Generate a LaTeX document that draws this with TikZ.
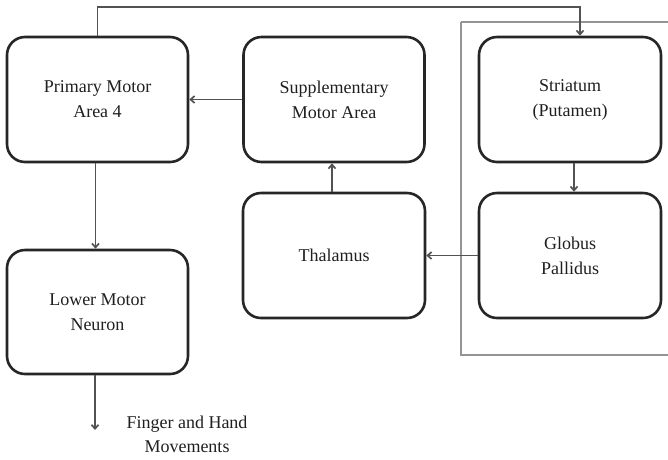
\documentclass[tikz,border=0pt]{standalone}
\usepackage{fontspec}
\setmainfont{Liberation Serif}
\usetikzlibrary{arrows.meta}
\begin{document}
\begin{tikzpicture}[x=1pt,y=-1pt,
  boxnode/.style={draw=black!85, line width=2.6pt, rounded corners=18pt, align=center,
    font=\fontsize{18}{25}\selectfont, text=black!88, inner sep=0pt},
  arr/.style={draw=black!68, line width=1.7pt, -{Straight Barb[length=4pt,width=7pt]}},
  lbl/.style={align=center, font=\fontsize{18}{24}\selectfont, text=black!88}]
\useasboundingbox (0,0) rectangle (668,459);
\draw[black!42, line width=1.6pt] (461,22) -- (690,22) (461,22) -- (461,355) -- (690,355);
\node[boxnode, minimum width=181pt, minimum height=125pt] (prim) at (97.5,99.5) {Primary Motor\\Area 4};
\node[boxnode, minimum width=181pt, minimum height=125pt] (sup) at (334,99.5) {Supplementary\\Motor Area};
\node[boxnode, minimum width=182pt, minimum height=125pt] (stri) at (570,99.5) {Striatum\\(Putamen)};
\node[boxnode, minimum width=182pt, minimum height=125pt] (thal) at (334,255.5) {Thalamus};
\node[boxnode, minimum width=182pt, minimum height=125pt] (glob) at (570,255.5) {Globus\\Pallidus};
\node[boxnode, minimum width=181pt, minimum height=124pt] (low) at (97.5,312) {Lower Motor\\Neuron};
\coordinate (tr) at (580,7);
\coordinate (fend) at (95,430);
\node[lbl] (fing) at (187,434) {Finger and Hand\\Movements};
\draw[arr] (prim.north) |- (tr) -- (stri.north -| tr);
\draw[arr] (sup.west) -- (prim.east);
\draw[arr] ([xshift=-2pt]thal.north) -- ([xshift=-2pt]sup.south);
\draw[arr] ([xshift=4pt]stri.south) -- ([xshift=4pt]glob.north);
\draw[arr] (glob.west) -- (thal.east);
\draw[arr] ([xshift=-2pt]prim.south) -- ([xshift=-2pt]low.north);
\draw[arr] (low.south -| fend) -- (fend);
\end{tikzpicture}
\end{document}
